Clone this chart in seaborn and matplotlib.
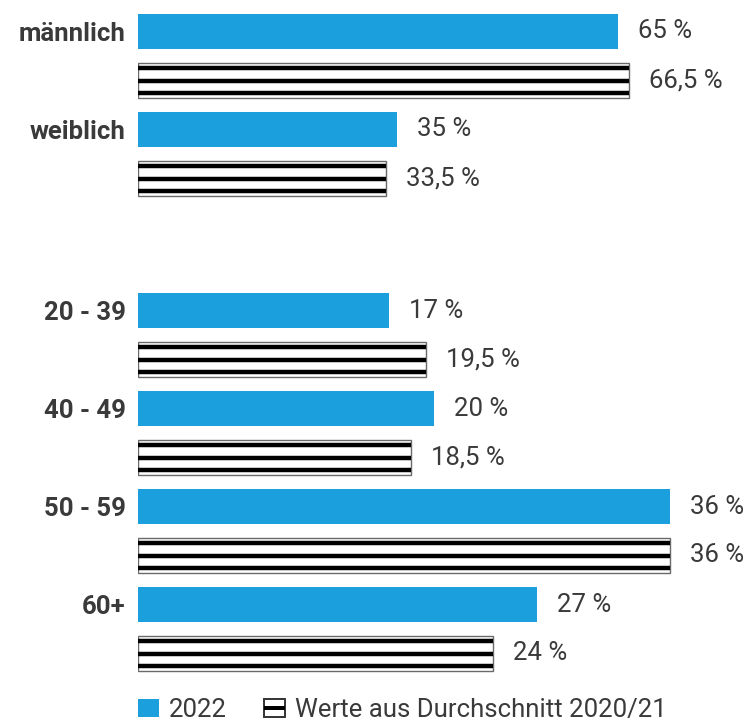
import numpy as np
import pandas as pd
import matplotlib
matplotlib.use("Agg")
import matplotlib.pyplot as plt
import matplotlib.patches as mpatches
from matplotlib.legend_handler import HandlerBase
import seaborn as sns

# --- data ---------------------------------------------------------------
series = ["2022", "Werte aus Durchschnitt 2020/21"]

gender_cats = ["männlich", "weiblich"]
gender_2022 = [65, 35]
gender_avg = [66.5, 33.5]

age_cats = ["20 - 39", "40 - 49", "50 - 59", "60+"]
age_2022 = [17, 20, 36, 27]
age_avg = [19.5, 18.5, 36, 24]

# --- style ----------------------------------------------------------------
BLUE = "#1ba0dd"
TEXT = "#3a3a3a"
EDGE = "#6a6a6a"
FS = 18.5

sns.set_theme(style="white")
plt.rcParams["font.family"] = ["Roboto", "DejaVu Sans"]
plt.rcParams["text.color"] = TEXT

W, H = 749, 723
fig = plt.figure(figsize=(W / 100, H / 100), dpi=100)


def px_axes(left, top, width, height):
    return fig.add_axes([left / W, 1 - (top + height) / H, width / W, height / H])


def fmt(v):
    s = f"{v:g}".replace(".", ",")
    return f"{s} %"


def draw_panel(ax, cats, v_new, v_avg, xmax, px_per_unit):
    df = pd.DataFrame({
        "cat": cats * 2,
        "value": list(v_new) + list(v_avg),
        "series": [series[0]] * len(cats) + [series[1]] * len(cats),
    })
    sns.barplot(data=df, y="cat", x="value", hue="series", orient="h",
                order=cats, hue_order=series, palette=[BLUE, "white"],
                width=1.0, gap=0.29, dodge=True, legend=False, ax=ax,
                saturation=1)
    ax.set_xlim(0, xmax)
    ax.set_ylim(len(cats) - 0.5, -0.5)

    # the 2022 bars
    for p in ax.containers[0]:
        p.set_edgecolor("none")
    # striped average bars
    for p in ax.containers[1]:
        p.set_facecolor("white")
        p.set_edgecolor(EDGE)
        p.set_linewidth(1.0)
        y0, h = p.get_y(), p.get_height()
        x0, w = p.get_x(), p.get_width()
        for f in (0.15, 0.5, 0.87):
            ax.plot([x0, x0 + w], [y0 + f * h] * 2, color="black",
                    lw=3.2, solid_capstyle="butt", zorder=3)

    # value labels
    off = 20 / px_per_unit
    for cont, vals in zip(ax.containers, (v_new, v_avg)):
        for p, v in zip(cont, vals):
            ax.text(p.get_x() + p.get_width() + off, p.get_y() + p.get_height() / 2,
                    fmt(v), va="center", ha="left", fontsize=FS, color=TEXT)

    # category labels sit next to the 2022 bar of each group
    centers = [p.get_y() + p.get_height() / 2 for p in ax.containers[0]]
    ax.set_yticks(centers, labels=cats)

    ax.set_xlabel("")
    ax.set_ylabel("")
    ax.set_xticks([])
    ax.tick_params(axis="y", length=0, pad=9)
    for lab in ax.get_yticklabels():
        lab.set_fontweight("bold")
        lab.set_fontsize(FS)
        lab.set_color(TEXT)
    for s in ax.spines.values():
        s.set_visible(False)
    ax.patch.set_alpha(0)


ax_top = px_axes(138, 7, 600, 196)
draw_panel(ax_top, gender_cats, gender_2022, gender_avg, 600 / 7.39, 7.39)

ax_bot = px_axes(138, 286, 600, 392)
draw_panel(ax_bot, age_cats, age_2022, age_avg, 600 / 14.78, 14.78)


# legend
class StripedHandler(HandlerBase):
    def create_artists(self, legend, orig_handle, xdescent, ydescent,
                       width, height, fontsize, trans):
        rect = mpatches.Rectangle((-xdescent, -ydescent), width, height,
                                  facecolor="white", edgecolor="#333333",
                                  lw=1.4, transform=trans)
        stripe = mpatches.Rectangle((-xdescent, -ydescent + height * 0.4),
                                    width, height * 0.22, facecolor="black",
                                    edgecolor="none", transform=trans)
        return [rect, stripe]


h_new = mpatches.Patch(facecolor=BLUE, edgecolor="none")
h_avg = mpatches.Patch(facecolor="white", edgecolor="#333333")
leg = fig.legend([h_new, h_avg], series, loc="center left",
                 bbox_to_anchor=(138 / W, 1 - 710 / H), ncol=2, frameon=False,
                 fontsize=FS, handlelength=0.8, handleheight=0.75,
                 handletextpad=0.4, columnspacing=1.45,
                 borderpad=0, borderaxespad=0,
                 handler_map={h_avg: StripedHandler()})
for t in leg.get_texts():
    t.set_color(TEXT)

fig.savefig("out.png", dpi=100)
